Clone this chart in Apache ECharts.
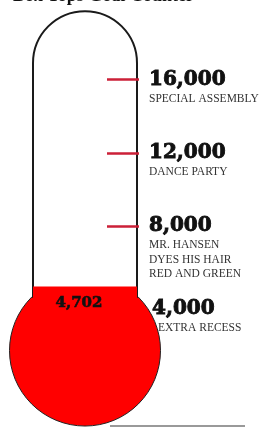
<!DOCTYPE html>
<html>
<head>
<meta charset="utf-8">
<script src="https://cdn.jsdelivr.net/npm/echarts@6/dist/echarts.min.js"></script>
<style>
  html, body { margin: 0; padding: 0; background: #fff; }
  #chart { width: 262px; height: 427px; }
</style>
</head>
<body>
<div id="chart"></div>
<script>
// goal data
const categories = ['Box Tops'];
const collected = [4702];
const milestoneValues = [4000, 8000, 12000, 16000];
const milestoneNames = [
    'EXTRA RECESS',
    'MR. HANSEN\nDYES HIS HAIR\nRED AND GREEN',
    'DANCE PARTY',
    'SPECIAL ASSEMBLY'
];
const tickValues = [8000, 12000, 16000];

// thermometer shape, in axis units
const tubeTop = 19800;
const tubeBase = 4090;
const bulbLevel = 1200;

const chart = echarts.init(document.getElementById('chart'));

const fmt = v => v.toLocaleString('en-US');
const isLow = v => v === milestoneValues[0];

function numberLabel(value) {
    return (isLow(value) ? '{low|' : '{num|') + fmt(value) + '}';
}

function descLabel(value) {
    const i = milestoneValues.indexOf(value);
    if (i < 0) return '';
    const style = isLow(value) ? '{low|' : '{desc|';
    return milestoneNames[i].split('\n').map(l => style + l + '}').join('\n');
}

const numStyle = {
    fontFamily: 'DejaVu Serif', fontWeight: 'bold', fontSize: 20, color: '#111',
    textBorderColor: '#111', textBorderWidth: 0.9
};
const descStyle = { fontFamily: 'Liberation Serif', fontSize: 11.5, color: '#333', lineHeight: 14.5 };

const option = {
    animation: false,
    backgroundColor: '#fff',
    title: {
        text: 'Box Tops Goal Counter',
        left: 8,
        top: -18,
        textStyle: { fontFamily: 'Liberation Serif', fontWeight: 'bold', fontSize: 18, color: '#111' }
    },
    grid: { left: 31, right: 123, top: 6.5, bottom: 54.5, outerBoundsMode: 'none' },
    xAxis: [
        { type: 'category', data: categories, show: false },
        { type: 'category', data: categories, show: false }
    ],
    yAxis: [
        {
            type: 'value',
            min: 0,
            max: 20000,
            position: 'right',
            z: 5,
            splitLine: { show: false },
            axisLine: { show: false },
            axisTick: {
                show: true,
                inside: true,
                length: 32,
                customValues: tickValues,
                lineStyle: { color: '#cc2038', width: 2.5 }
            },
            axisLabel: {
                show: true,
                margin: 10,
                customValues: milestoneValues,
                formatter: numberLabel,
                rich: {
                    num: numStyle,
                    low: Object.assign({}, numStyle, { padding: [19, 0, 0, 3] })
                }
            }
        },
        {
            type: 'value',
            min: 0,
            max: 20000,
            position: 'right',
            z: 5,
            splitLine: { show: false },
            axisLine: { show: false },
            axisTick: { show: false },
            axisLabel: {
                show: true,
                margin: 10,
                verticalAlign: 'top',
                padding: [12, 0, 0, 0],
                customValues: milestoneValues,
                formatter: descLabel,
                rich: {
                    desc: descStyle,
                    low: Object.assign({}, descStyle, { padding: [18, 0, 0, 9] })
                }
            }
        }
    ],
    graphic: [
        {
            type: 'line',
            shape: { x1: 110, y1: 426, x2: 245, y2: 426 },
            style: { stroke: '#777', lineWidth: 1.5 },
            silent: true
        }
    ],
    series: [
        {
            name: 'bulb',
            type: 'scatter',
            data: [bulbLevel],
            symbol: 'circle',
            symbolSize: 151,
            clip: false,
            silent: true,
            z: 1,
            itemStyle: { color: '#ff0000', borderColor: '#222', borderWidth: 1, opacity: 1 }
        },
        {
            name: 'base',
            type: 'bar',
            stack: 'tube',
            data: [tubeBase],
            barWidth: 106,
            silent: true,
            z: 2,
            itemStyle: { color: 'rgba(0,0,0,0)' }
        },
        {
            name: 'tube',
            type: 'bar',
            stack: 'tube',
            data: [tubeTop - tubeBase],
            barWidth: 106,
            silent: true,
            z: 2,
            itemStyle: { color: '#fff', borderColor: '#1a1a1a', borderWidth: 2, borderRadius: [53, 53, 0, 0] }
        },
        {
            name: 'collected',
            type: 'bar',
            xAxisIndex: 1,
            data: collected,
            barWidth: 104,
            silent: true,
            z: 3,
            itemStyle: { color: '#ff0000' },
            label: {
                show: true,
                position: 'insideTop',
                distance: 9,
                offset: [-6, 0],
                formatter: p => fmt(p.value),
                fontFamily: 'DejaVu Serif',
                fontWeight: 'bold',
                fontSize: 15,
                color: '#111',
                textBorderColor: '#111',
                textBorderWidth: 0.6
            }
        }
    ]
};

chart.setOption(option);
</script>
</body>
</html>
